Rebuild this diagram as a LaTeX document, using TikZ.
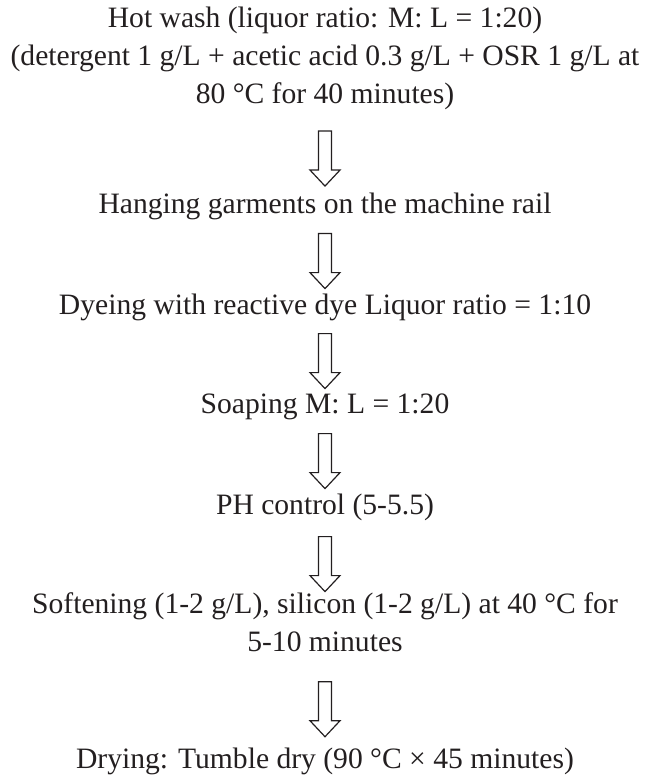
\documentclass[tikz,border=0pt]{standalone}
\usepackage{fontspec}
\setmainfont{Liberation Serif}
\usetikzlibrary{calc}
\definecolor{ink}{RGB}{35,31,32}
\begin{document}
\begin{tikzpicture}[x=1pt,y=-1pt,
  stepnode/.style={font=\fontsize{29.6}{38}\selectfont, text=ink, inner sep=0pt, align=center,
    execute at begin node=\strut, execute at end node=\strut, anchor=north},
  fatarrow/.default=0,
  fatarrow/.style={draw=ink, line width=1.2pt, line join=miter,
    to path={let \p1=(\tikztostart), \p2=(\tikztotarget), \p3=($(\tikztostart)!0.5!(\tikztotarget)$) in
      (\x1-6.5pt,\y3+22.5pt-#1pt) -- (\x1+6.5pt,\y3+22.5pt-#1pt) -- (\x1+6.5pt,\y3-16.5pt-#1pt) -- (\x1+15pt,\y3-16.5pt-#1pt)
      -- (\x1,\y3-32.5pt-#1pt) -- (\x1-15pt,\y3-16.5pt-#1pt) -- (\x1-6.5pt,\y3-16.5pt-#1pt) -- cycle}}]
\useasboundingbox (0,0) rectangle (648,775);
\node[stepnode] (s1) at (325,6.4) {Hot wash (liquor ratio: M: L = 1:20)\\(detergent 1 g/L + acetic acid 0.3 g/L + OSR 1 g/L at\\80 °C for 40 minutes)};
\node[stepnode] (s2) at (325,186.4) {Hanging garments on the machine rail};
\node[stepnode] (s3) at (325,287.4) {Dyeing with reactive dye Liquor ratio = 1:10};
\node[stepnode] (s4) at (325,386.4) {Soaping M: L = 1:20};
\node[stepnode] (s5) at (325,487.4) {PH control (5-5.5)};
\node[stepnode] (s6) at (325,592.4) {Softening (1-2 g/L), silicon (1-2 g/L) at 40 °C for\\5-10 minutes};
\node[stepnode] (s7) at (325,741.4) {Drying: Tumble dry (90 °C × 45 minutes)};
\draw[fatarrow=3] (s1.south) to (s2.north);
\draw[fatarrow] (s2.south) to (s3.north);
\draw[fatarrow] (s3.south) to (s4.north);
\draw[fatarrow] (s4.south) to (s5.north);
\draw[fatarrow] (s5.south) to (s6.north);
\draw[fatarrow=2] (s6.south) to (s7.north);
\end{tikzpicture}
\end{document}
